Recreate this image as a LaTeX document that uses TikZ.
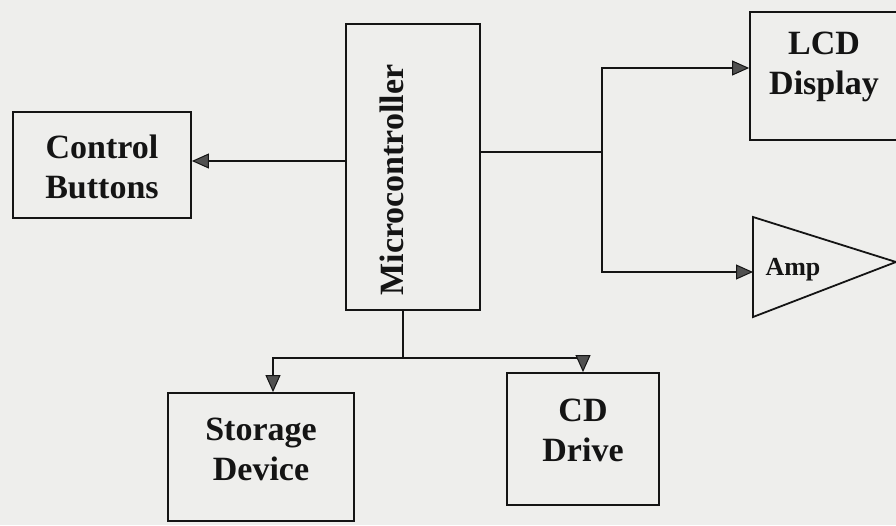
\documentclass[tikz,border=0pt]{standalone}
\usepackage{fontspec}
\setmainfont{Liberation Serif}
\usetikzlibrary{arrows.meta,positioning}
\definecolor{paper}{RGB}{238,238,236}
\definecolor{ink}{RGB}{20,20,20}
\definecolor{headfill}{RGB}{80,80,80}
\begin{document}
\begin{tikzpicture}[x=1pt,y=-1pt,
  blk/.style={draw=ink,line width=1.8pt,rectangle,inner sep=0pt},
  lbl/.style={inner sep=0pt,align=center,font=\bfseries\fontsize{34}{40}\selectfont,text=ink},
  wire/.style={draw=ink,line width=1.8pt},
  arr/.style={wire,-{Triangle[length=17pt,width=15pt,fill=headfill,line width=1pt]}}]
\fill[paper] (0,0) rectangle (896,525);
\clip (0,0) rectangle (896,525);
\node[blk,minimum width=178pt,minimum height=106pt] (cb) at (102,165) {};
\node[lbl] (cbtext) at (102,167) {Control\\Buttons};
\node[blk,minimum width=134pt,minimum height=286pt] (mc) at (413,167) {};
\node[lbl,rotate=90] (mctext) at (392,180) {Microcontroller};
\node[blk,minimum width=148pt,minimum height=128pt] (lcd) at (824,76) {};
\node[lbl] (lcdtext) at (824,67) {LCD\\Display};
\node[blk,minimum width=186pt,minimum height=128pt] (sd) at (261,457) {};
\node[lbl] (sdtext) at (261,449) {Storage\\Device};
\node[blk,minimum width=152pt,minimum height=132pt] (cd) at (583,439) {};
\node[lbl] (cdtext) at (583,430) {CD\\Drive};
% amplifier triangle
\coordinate (ampin) at (753,272);
\draw[wire,line join=miter] (753,217) -- (896,262) -- (753,317) -- cycle;
\node[inner sep=0pt,font=\bfseries\fontsize{26}{30}\selectfont,text=ink] (amp) at (793,270) {Amp};
% connectors
\draw[arr] (mc.west |- 0,161) -- (cb.east |- 0,161);
\coordinate (jr) at (602,152);
\draw[wire] (mc.east |- jr) -- (jr);
\draw[arr] (jr) |- ([yshift=8pt]lcd.west);
\draw[arr] (jr) |- (ampin);
\coordinate (jb) at (403,358);
\draw[wire] ([xshift=-10pt]mc.south) -- (jb);
\draw[arr] (jb) -| ([xshift=12pt]sd.north);
\draw[arr] (jb) -| (cd.north);
\end{tikzpicture}
\end{document}
